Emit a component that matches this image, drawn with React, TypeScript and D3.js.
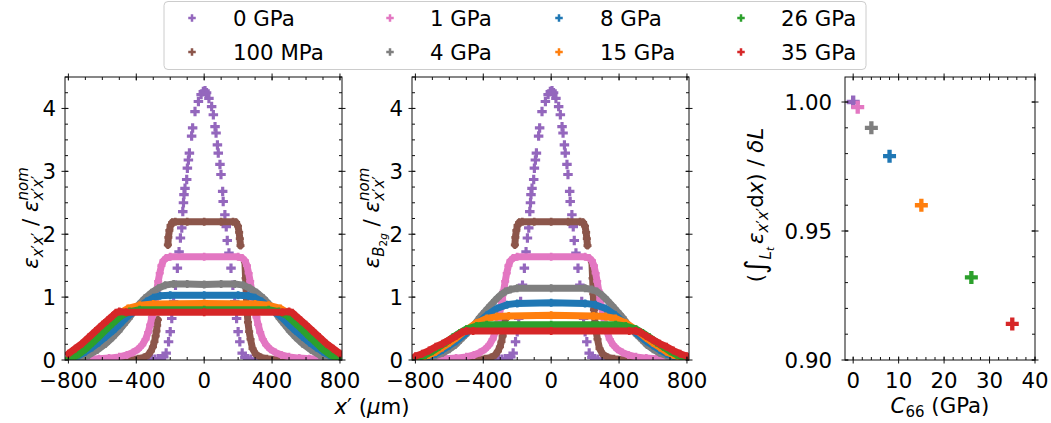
import React from 'react';
import * as d3 from 'd3';

type Pt = [number, number];

const SERIES_LABELS = ['0 GPa', '100 MPa', '1 GPa', '4 GPa', '8 GPa', '15 GPa', '26 GPa', '35 GPa'];
const SERIES_COLORS = ['#9467bd', '#8c564b', '#e377c2', '#7f7f7f', '#1f77b4', '#ff7f0e', '#2ca02c', '#d62728'];

// 0 GPa (shared by both strain panels)
const purpleProfile: Pt[] = [
  [-330, 0.01], [-310, 0.02], [-290, 0.01], [-270, 0.02], [-252, 0.02], [-238, 0.05], [-224, 0.11], [-210, 0.29],
  [-200, 0.45], [-191, 0.66], [-180, 0.93], [-169, 1.19], [-158, 1.46], [-148, 1.72], [-140, 1.94], [-132, 2.1],
  [-126, 2.36], [-122, 2.5], [-119, 2.63], [-113, 2.73], [-103, 2.87], [-99, 3.05], [-93, 3.18], [-87, 3.29],
  [-74, 3.56], [-68, 3.69], [-54, 3.95], [-34, 4.11], [-18, 4.22], [-5, 4.27], [5, 4.28], [14, 4.25], [28, 4.16],
  [44, 4.03], [54, 3.9], [64, 3.71], [70, 3.61], [78, 3.42], [83, 3.29], [93, 3.11], [99, 2.95], [109, 2.68],
  [112, 2.52], [122, 2.31], [130, 2.12], [136, 1.9], [146, 1.7], [158, 1.46], [169, 1.19], [180, 0.93], [191, 0.66],
  [200, 0.45], [210, 0.29], [224, 0.11], [240, 0.04], [256, 0.02], [275, 0.01], [300, 0.02], [322, 0.01],
];

// 100 MPa (NaN marks gaps between sampled points)
const brownProfile: Pt[] = [
  [-470, 0], [-430, 0.01], [-390, 0.02], [-355, 0.04], [-330, 0.08], [-314, 0.14], [-302, 0.21], [-293, 0.29],
  [-286, 0.38], [-281, 0.46], [-277, 0.55], [-273, 0.64], [-240, NaN], [-214, 1.83], [-211, 1.95], [-205, 2.06],
  [-198, 2.14], [-188, 2.19], [-170, 2.2], [-100, 2.2], [0, 2.2], [100, 2.2], [170, 2.2], [188, 2.19], [199, 2.13],
  [206, 2.03], [210, 1.93], [214, 1.82], [226, NaN], [240, 1.56], [244, 1.3], [248, 1.05], [252, 0.8], [258, 0.6],
  [265, 0.45], [273, 0.33], [285, 0.18], [305, 0.09], [335, 0.04], [370, 0.02], [420, 0.01], [470, 0],
];

// 1 GPa
const pinkProfile: Pt[] = [
  [-800, 0], [-700, 0.01], [-620, 0.02], [-560, 0.03], [-500, 0.05], [-455, 0.08], [-420, 0.12], [-390, 0.17],
  [-365, 0.24], [-345, 0.33], [-330, 0.44], [-318, 0.56], [-308, 0.68], [-298, 0.82], [-289, 0.96], [-280, 1.1],
  [-271, 1.25], [-262, 1.38], [-252, 1.5], [-240, 1.58], [-225, 1.62], [-200, 1.64], [0, 1.64], [200, 1.64],
  [225, 1.62], [240, 1.58], [252, 1.5], [262, 1.38], [271, 1.25], [280, 1.1], [289, 0.96], [298, 0.82], [308, 0.68],
  [318, 0.56], [330, 0.44], [345, 0.33], [365, 0.24], [390, 0.17], [420, 0.12], [455, 0.08], [500, 0.05],
  [560, 0.03], [620, 0.02], [700, 0.01], [800, 0],
];

// ε_x'x' panel
const grayA: Pt[] = [
  [-780, 0], [-730, 0.03], [-680, 0.08], [-630, 0.16], [-580, 0.26], [-540, 0.36], [-505, 0.46], [-475, 0.56],
  [-445, 0.66], [-415, 0.77], [-385, 0.88], [-350, 0.98], [-310, 1.07], [-270, 1.14], [-230, 1.19], [-180, 1.21],
  [-100, 1.21], [0, 1.2], [100, 1.21], [180, 1.21], [230, 1.19], [270, 1.14], [310, 1.07], [350, 0.98], [385, 0.88],
  [415, 0.77], [445, 0.66], [475, 0.56], [505, 0.46], [540, 0.36], [580, 0.26], [630, 0.16], [680, 0.08],
  [730, 0.03], [780, 0],
];
const blueA: Pt[] = [
  [-800, 0.02], [-780, 0.03], [-740, 0.07], [-700, 0.13], [-660, 0.2], [-620, 0.28], [-580, 0.37], [-540, 0.46],
  [-500, 0.56], [-460, 0.67], [-420, 0.76], [-380, 0.85], [-340, 0.93], [-300, 0.99], [-260, 1.02], [-200, 1.03],
  [0, 1.03], [200, 1.03], [260, 1.02], [300, 0.99], [340, 0.93], [380, 0.85], [420, 0.76], [460, 0.67], [500, 0.56],
  [540, 0.46], [580, 0.37], [620, 0.28], [660, 0.2], [700, 0.13], [740, 0.07], [780, 0.03], [800, 0.02],
];
const orangeA: Pt[] = [
  [-800, 0.02], [-780, 0.04], [-740, 0.11], [-700, 0.2], [-660, 0.3], [-620, 0.41], [-580, 0.52], [-540, 0.63],
  [-500, 0.74], [-450, 0.82], [-380, 0.87], [-300, 0.89], [0, 0.9], [300, 0.89], [380, 0.87], [450, 0.82],
  [500, 0.74], [540, 0.63], [580, 0.52], [620, 0.41], [660, 0.3], [700, 0.2], [740, 0.11], [780, 0.04], [800, 0.02],
];
const greenA: Pt[] = [
  [-800, 0.01], [-780, 0.03], [-740, 0.09], [-700, 0.17], [-660, 0.27], [-620, 0.37], [-580, 0.48], [-540, 0.58],
  [-490, 0.7], [-440, 0.77], [-380, 0.8], [0, 0.8], [380, 0.8], [440, 0.77], [490, 0.7], [540, 0.58], [580, 0.48],
  [620, 0.37], [660, 0.27], [700, 0.17], [740, 0.09], [780, 0.03], [800, 0.01],
];
const redA: Pt[] = [
  [-800, 0.1], [-760, 0.18], [-720, 0.26], [-680, 0.36], [-640, 0.46], [-600, 0.56], [-570, 0.63], [-540, 0.7],
  [-520, 0.75], [-500, 0.77], [-460, 0.76], [0, 0.76], [460, 0.76], [500, 0.77], [520, 0.75], [540, 0.7],
  [570, 0.63], [600, 0.56], [640, 0.46], [680, 0.36], [720, 0.26], [760, 0.18], [800, 0.1],
];

// ε_B2g panel
const grayB: Pt[] = [
  [-790, 0], [-760, 0.01], [-720, 0.04], [-680, 0.07], [-640, 0.11], [-600, 0.17], [-565, 0.24], [-535, 0.32],
  [-505, 0.4], [-475, 0.49], [-447, 0.58], [-420, 0.68], [-390, 0.77], [-360, 0.86], [-330, 0.95], [-300, 1.03],
  [-270, 1.09], [-240, 1.12], [-200, 1.14], [0, 1.14], [200, 1.14], [240, 1.12], [270, 1.09], [300, 1.03],
  [330, 0.95], [360, 0.86], [390, 0.77], [420, 0.68], [447, 0.58], [475, 0.49], [505, 0.4], [535, 0.32],
  [565, 0.24], [600, 0.17], [640, 0.11], [680, 0.07], [720, 0.04], [760, 0.01], [790, 0],
];
const blueB: Pt[] = [
  [-800, 0.01], [-760, 0.03], [-720, 0.06], [-680, 0.1], [-640, 0.16], [-600, 0.23], [-560, 0.3], [-500, 0.43],
  [-440, 0.57], [-380, 0.71], [-320, 0.82], [-260, 0.88], [-200, 0.9], [0, 0.91], [200, 0.9], [260, 0.88],
  [320, 0.82], [380, 0.71], [440, 0.57], [500, 0.43], [560, 0.3], [600, 0.23], [640, 0.16], [680, 0.1],
  [720, 0.06], [760, 0.03], [800, 0.01],
];
const orangeB: Pt[] = [
  [-800, 0.02], [-760, 0.04], [-720, 0.08], [-680, 0.13], [-640, 0.2], [-600, 0.27], [-560, 0.35], [-500, 0.48],
  [-440, 0.59], [-380, 0.66], [-320, 0.69], [-250, 0.7], [0, 0.71], [250, 0.7], [320, 0.69], [380, 0.66],
  [440, 0.59], [500, 0.48], [560, 0.35], [600, 0.27], [640, 0.2], [680, 0.13], [720, 0.08], [760, 0.04], [800, 0.02],
];
const greenB: Pt[] = [
  [-800, 0.02], [-780, 0.04], [-740, 0.08], [-700, 0.14], [-660, 0.21], [-620, 0.28], [-580, 0.36], [-540, 0.43],
  [-500, 0.49], [-440, 0.54], [-380, 0.56], [0, 0.56], [380, 0.56], [440, 0.54], [500, 0.49], [540, 0.43],
  [580, 0.36], [620, 0.28], [660, 0.21], [700, 0.14], [740, 0.08], [780, 0.04], [800, 0.02],
];
const redB: Pt[] = [
  [-800, 0.06], [-760, 0.1], [-720, 0.15], [-680, 0.21], [-640, 0.26], [-600, 0.32], [-560, 0.38], [-525, 0.44],
  [-500, 0.46], [-460, 0.46], [0, 0.46], [460, 0.46], [500, 0.46], [525, 0.44], [560, 0.38], [600, 0.32],
  [640, 0.26], [680, 0.21], [720, 0.15], [760, 0.1], [800, 0.06],
];

const PANEL_A_SERIES = [purpleProfile, brownProfile, pinkProfile, grayA, blueA, orangeA, greenA, redA];
const PANEL_B_SERIES = [purpleProfile, brownProfile, pinkProfile, grayB, blueB, orangeB, greenB, redB];

// integrated strain vs C66
const C66_VALUES = [0, 1, 4, 8, 15, 26, 35];
const C66_SERIES_INDEX = [0, 2, 3, 4, 5, 6, 7];
const INTEGRAL_RATIO = [1.0, 0.998, 0.99, 0.979, 0.96, 0.932, 0.914];

const X_TICKS = [-800, -400, 0, 400, 800];
const Y_TICKS = [0, 1, 2, 3, 4];
const C66_TICKS = [0, 10, 20, 30, 40];
const RATIO_TICKS = [0.9, 0.95, 1.0];

const FONT = "'DejaVu Sans', sans-serif";
const FS = 21.3;
const SUB = 15;
const SUB2 = 10.5;

function plusPath(cx: number, cy: number, s: number) {
  const a = s / 2;
  const b = s / 6;
  return `M${cx - b},${cy - a}H${cx + b}V${cy - b}H${cx + a}V${cy + b}H${cx + b}V${cy + a}H${cx - b}V${cy + b}H${cx - a}V${cy - b}H${cx - b}Z`;
}

const fmtMinus = (v: number) => (v < 0 ? '\u2212' + Math.abs(v) : String(v));

function Txt({ x, y, anchor = 'start', rotate = 0, size = FS, children }: any) {
  return (
    <text
      transform={`translate(${x},${y})${rotate ? ` rotate(${rotate})` : ''}`}
      textAnchor={anchor}
      fontSize={size}
      fontFamily={FONT}
      fill="#000"
    >
      {children}
    </text>
  );
}

type Box = { x0: number; x1: number; y0: number; y1: number };

function Frame({ box, xs, ys, xMajor, xMinor, yMajor, yMinor, xFmt, yFmt, yLabelGap }: any) {
  const { x0, x1, y0, y1 } = box;
  const out = 3.5;
  const inn = 3.5;
  const mn = 3;
  const els: any[] = [];
  xMinor.forEach((v: number, i: number) => {
    const x = xs(v);
    els.push(<line key={'xm' + i} x1={x} x2={x} y1={y1} y2={y1 - mn} />);
    els.push(<line key={'xmt' + i} x1={x} x2={x} y1={y0} y2={y0 + mn} />);
  });
  yMinor.forEach((v: number, i: number) => {
    const y = ys(v);
    els.push(<line key={'ym' + i} x1={x0} x2={x0 + mn} y1={y} y2={y} />);
    els.push(<line key={'ymr' + i} x1={x1} x2={x1 - mn} y1={y} y2={y} />);
  });
  xMajor.forEach((v: number, i: number) => {
    const x = xs(v);
    els.push(<line key={'xM' + i} x1={x} x2={x} y1={y1 + out} y2={y1 - inn} />);
    els.push(<line key={'xMt' + i} x1={x} x2={x} y1={y0 - out} y2={y0 + inn} />);
  });
  yMajor.forEach((v: number, i: number) => {
    const y = ys(v);
    els.push(<line key={'yM' + i} x1={x0 - out} x2={x0 + inn} y1={y} y2={y} />);
    els.push(<line key={'yMr' + i} x1={x1 + out} x2={x1 - inn} y1={y} y2={y} />);
  });
  return (
    <g>
      <g stroke="#111" strokeWidth={1}>{els}</g>
      <rect x={x0} y={y0} width={x1 - x0} height={y1 - y0} fill="none" stroke="#111" strokeWidth={1} />
      {xMajor.map((v: number, i: number) => (
        <Txt key={'xl' + i} x={xs(v)} y={y1 + 28} anchor="middle">{xFmt(v)}</Txt>
      ))}
      {yMajor.map((v: number, i: number) => (
        <Txt key={'yl' + i} x={x0 - yLabelGap} y={ys(v) + 7.5} anchor="end">{yFmt(v)}</Txt>
      ))}
    </g>
  );
}

function StrainPanel({ box, series, id }: { box: Box; series: Pt[][]; id: string }) {
  const xs = d3.scaleLinear().domain([-820, 812]).range([box.x0, box.x1]);
  const ys = d3.scaleLinear().domain([0, 4.5]).range([box.y1, box.y0]);
  const line = d3
    .line<Pt>()
    .defined((d) => !isNaN(d[1]))
    .x((d) => xs(d[0]))
    .y((d) => ys(d[1]));
  return (
    <g>
      <defs>
        <clipPath id={id}>
          <rect x={box.x0} y={box.y0} width={box.x1 - box.x0} height={box.y1 - box.y0} />
        </clipPath>
      </defs>
      <g clipPath={`url(#${id})`}>
        {series.map((pts, si) => (
          <g key={si} fill={SERIES_COLORS[si]}>
            {si > 0 && (
              <path
                d={line(pts) || ''}
                fill="none"
                stroke={SERIES_COLORS[si]}
                strokeWidth={7}
                strokeLinejoin="round"
                strokeLinecap="round"
              />
            )}
            {pts
              .filter((d) => !isNaN(d[1]))
              .map((d, i) => (
                <path key={i} d={plusPath(xs(d[0]), ys(d[1]), si === 0 ? 9.5 : 8)} />
              ))}
          </g>
        ))}
      </g>
      <Frame
        box={box}
        xs={xs}
        ys={ys}
        xMajor={X_TICKS}
        xMinor={d3.range(-800, 801, 100)}
        yMajor={Y_TICKS}
        yMinor={d3.range(0, 4.51, 0.25)}
        xFmt={fmtMinus}
        yFmt={(v: number) => String(v)}
        yLabelGap={9}
      />
    </g>
  );
}

function RatioPanel({ box }: { box: Box }) {
  const xs = d3.scaleLinear().domain([-1.8, 40]).range([box.x0, box.x1]);
  const ys = d3.scaleLinear().domain([0.9, 1.0097]).range([box.y1, box.y0]);
  return (
    <g>
      {C66_VALUES.map((c, i) => (
        <path key={i} d={plusPath(xs(c), ys(INTEGRAL_RATIO[i]), 13)} fill={SERIES_COLORS[C66_SERIES_INDEX[i]]} />
      ))}
      <Frame
        box={box}
        xs={xs}
        ys={ys}
        xMajor={C66_TICKS}
        xMinor={d3.range(0, 40.01, 2)}
        yMajor={RATIO_TICKS}
        yMinor={d3.range(0.9, 1.0095, 0.01)}
        xFmt={(v: number) => String(v)}
        yFmt={d3.format('.2f')}
        yLabelGap={13}
      />
    </g>
  );
}

const LEGEND_COL_MARKER = [192, 390, 559, 741];
const LEGEND_COL_TEXT = [233, 430, 600, 781];
const LEGEND_ROW_Y = [18, 52];

// subscript x'x' with upright primes
function XpXp() {
  return (
    <>
      <tspan fontStyle="italic">x</tspan>
      <tspan fontStyle="normal">′</tspan>
      <tspan fontStyle="italic">x</tspan>
      <tspan fontStyle="normal">′</tspan>
    </>
  );
}

export default function App() {
  const boxA: Box = { x0: 65, x1: 342, y0: 77, y1: 360 };
  const boxB: Box = { x0: 412, x1: 689, y0: 77, y1: 360 };
  const boxC: Box = { x0: 845, x1: 1035, y0: 77, y1: 360 };
  return (
    <svg
      width={1051}
      height={423}
      style={{ position: 'absolute', left: 0, top: 0, background: '#fff', display: 'block' }}
    >
      <rect x={0} y={0} width={1051} height={423} fill="#fff" />
      <StrainPanel box={boxA} series={PANEL_A_SERIES} id="clipA" />
      <StrainPanel box={boxB} series={PANEL_B_SERIES} id="clipB" />
      <RatioPanel box={boxC} />

      {/* axis labels */}
      <Txt x={38} y={218} rotate={-90} anchor="middle">
        <tspan fontStyle="italic">ε</tspan>
        <tspan fontSize={SUB} dy={5}><XpXp /></tspan>
        <tspan dy={-5}> / </tspan>
        <tspan fontStyle="italic">ε</tspan>
        <tspan fontSize={SUB} dy={-10} fontStyle="italic">nom</tspan>
        <tspan fontSize={SUB} dx={-33} dy={15}><XpXp /></tspan>
      </Txt>
      <Txt x={379} y={218} rotate={-90} anchor="middle">
        <tspan fontStyle="italic">ε</tspan>
        <tspan fontSize={SUB} dy={5} fontStyle="italic">B</tspan>
        <tspan fontSize={SUB2} dy={3}>2</tspan>
        <tspan fontSize={SUB2} fontStyle="italic">g</tspan>
        <tspan dy={-8}> / </tspan>
        <tspan fontStyle="italic">ε</tspan>
        <tspan fontSize={SUB} dy={-10} fontStyle="italic">nom</tspan>
        <tspan fontSize={SUB} dx={-33} dy={15}><XpXp /></tspan>
      </Txt>
      <Txt x={763} y={205} rotate={-90} anchor="middle">
        <tspan>(</tspan>
        <tspan fontSize={28} dy={2}>∫</tspan>
        <tspan fontSize={SUB} dy={6} fontStyle="italic">L</tspan>
        <tspan fontSize={SUB2} dy={3} fontStyle="italic">t</tspan>
        <tspan dy={-11} dx={3} fontStyle="italic">ε</tspan>
        <tspan fontSize={SUB} dy={5}><XpXp /></tspan>
        <tspan dy={-5}>d</tspan>
        <tspan fontStyle="italic">x</tspan>
        <tspan>) / </tspan>
        <tspan fontStyle="italic">δL</tspan>
      </Txt>
      <Txt x={372} y={414} anchor="middle">
        <tspan fontStyle="italic">x</tspan>
        <tspan>′ (</tspan>
        <tspan fontStyle="italic">μ</tspan>
        <tspan>m)</tspan>
      </Txt>
      <Txt x={940} y={413} anchor="middle">
        <tspan fontStyle="italic">C</tspan>
        <tspan fontSize={SUB} dy={4}>66</tspan>
        <tspan dy={-4}> (GPa)</tspan>
      </Txt>

      {/* legend */}
      <g>
        <rect x={164} y={1.5} width={702} height={68} rx={4} fill="#fff" fillOpacity={0.8} stroke="#cccccc" />
        {SERIES_LABELS.map((lab, i) => {
          const col = Math.floor(i / 2);
          const row = i % 2;
          const cy = LEGEND_ROW_Y[row];
          return (
            <g key={lab}>
              <path d={plusPath(LEGEND_COL_MARKER[col], cy, 7.5)} fill={SERIES_COLORS[i]} />
              <Txt x={LEGEND_COL_TEXT[col]} y={cy + 7.5}>{lab}</Txt>
            </g>
          );
        })}
      </g>
    </svg>
  );
}
